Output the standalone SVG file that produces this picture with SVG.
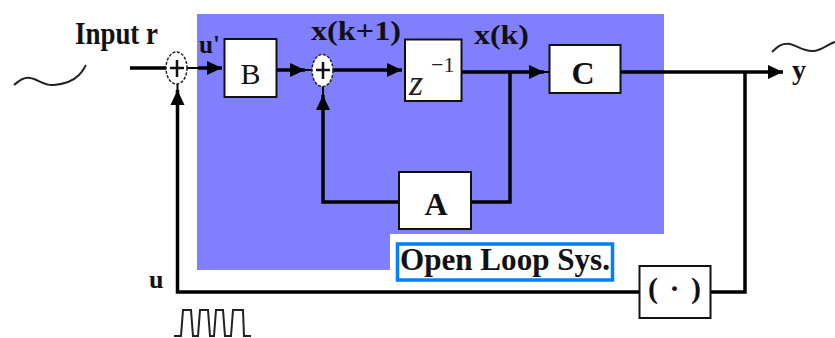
<svg xmlns="http://www.w3.org/2000/svg" width="835" height="338" viewBox="0 0 835 338">
<style>
.box{fill:#fff;stroke:#111;stroke-width:2}
.sum{fill:#fff;stroke:#222;stroke-width:1.5;stroke-dasharray:3 1.5}
.cross{fill:none;stroke:#111;stroke-width:2.5}
.wire{fill:none;stroke:#000;stroke-width:3.500}
.link{fill:none;stroke:#000;stroke-width:2}
.thin{fill:none;stroke:#222;stroke-width:2}
.t{font-family:"Liberation Serif",serif;font-weight:bold;fill:#111}
</style>
<defs>
<marker id="arrow" markerUnits="userSpaceOnUse" markerWidth="16" markerHeight="16" refX="15" refY="8" orient="auto"><path d="M0 1L15 8L0 15Z" fill="#000"/></marker>
</defs>
<rect width="835" height="338" fill="#fff"/>
<path id="open-loop-region" d="M197 14H664V234H390V270H197Z" fill="#8080ff"/>
<path class="thin" d="M14 85C20 80 24 77 30 78C38 79 44 86 54 85C66 84 74 80 79 75C83 71 84 68 86 65"/>
<path class="thin" d="M772 52C778 46 782 43 790 44C798 46 804 52 814 51C822 50 828 44 835 42"/>
<g id="connectors">
<path class="wire" d="M130 68H166"/>
<path class="link" d="M187 68H200"/>
<path class="wire" d="M198 68H222" marker-end="url(#arrow)"/>
<path class="wire" d="M277 70H305" marker-end="url(#arrow)"/>
<path class="link" d="M303 70H312"/>
<path class="wire" d="M333 70H402" marker-end="url(#arrow)"/>
<path class="wire" d="M462 72H544" marker-end="url(#arrow)"/>
<path class="link" d="M542 72H549"/>
<path class="wire" d="M621 72H783" marker-end="url(#arrow)"/>
<path class="wire" d="M510 72V202H471"/>
<path class="wire" d="M399 202H323V95" marker-end="url(#arrow)"/>
<path class="link" d="M323 97V86"/>
<path class="wire" d="M745 72V292H711"/>
<path class="wire" d="M639 292H177.500V90" marker-end="url(#arrow)"/>
<path class="link" d="M177.500 92V83"/>
</g>
<g id="sum1"><ellipse class="sum" cx="176.500" cy="68" rx="10.500" ry="16"/><path class="cross" d="M170 68H184M177 60V77"/></g>
<g id="sum2"><ellipse class="sum" cx="322.500" cy="70.500" rx="10.500" ry="16"/><path class="cross" d="M316 70H330M323 62V79"/></g>
<g id="B"><rect class="box" x="224.500" y="39" width="52" height="58"/><text class="t" x="250.500" y="84" font-size="30" text-anchor="middle" style="font-weight:normal">B</text></g>
<g id="z"><rect class="box" x="405" y="39.500" width="56.500" height="61.500"/><text x="409" y="95" font-family="Liberation Serif" font-style="italic" font-size="36" fill="#222">z</text><text x="431" y="72" font-family="Liberation Serif" font-size="22" fill="#222">−1</text></g>
<g id="C"><rect class="box" x="549.500" y="45" width="71" height="48"/><text class="t" x="583" y="84" font-size="32" text-anchor="middle">C</text></g>
<g id="A"><rect class="box" x="399" y="172" width="72" height="57"/><text class="t" x="436" y="215" font-size="32" text-anchor="middle">A</text></g>
<g id="gain"><rect class="box" x="639.500" y="266" width="71" height="52"/><text class="t" x="648" y="298" font-size="30" textLength="53" xml:space="preserve">( · )</text></g>
<g id="label"><rect x="397.500" y="244" width="215" height="36" fill="#fff" stroke="#0080ff" stroke-width="3.500"/><text class="t" x="400" y="270" font-size="32" textLength="210" lengthAdjust="spacingAndGlyphs">Open Loop Sys.</text></g>
<text class="t" x="75" y="44" font-size="32" textLength="83" lengthAdjust="spacingAndGlyphs">Input r</text>
<text class="t" x="199" y="53" font-size="26" textLength="21" lengthAdjust="spacingAndGlyphs">u'</text>
<text class="t" x="311" y="40" font-size="28" textLength="90" lengthAdjust="spacingAndGlyphs">x(k+1)</text>
<text class="t" x="474" y="44" font-size="28" textLength="55" lengthAdjust="spacingAndGlyphs">x(k)</text>
<text class="t" x="792" y="79" font-size="28">y</text>
<text class="t" x="149" y="288" font-size="26">u</text>
<path class="thin" d="M174 336H181L183 310H191L193 336H198L200 310H208L210 336H214L216 310H223L225 336H231L233 310H243L244 336H251" stroke-width="2.200"/>
</svg>
